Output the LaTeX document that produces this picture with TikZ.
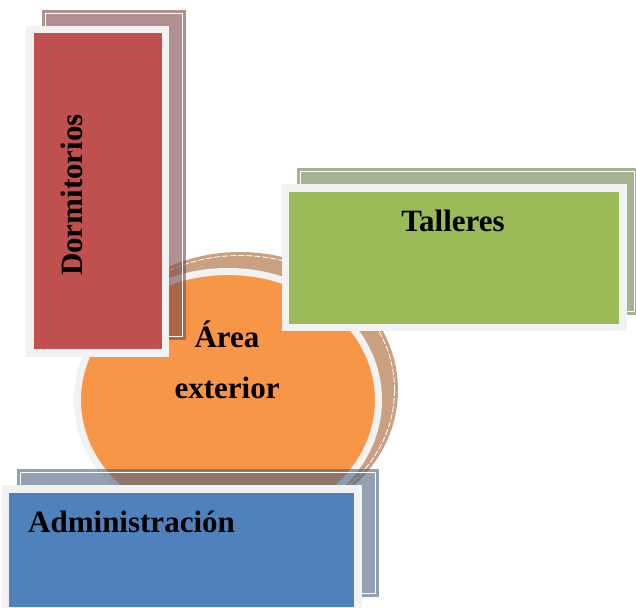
\documentclass[tikz,border=0pt]{standalone}
\usepackage{fontspec}
\setmainfont{Liberation Serif}
\usetikzlibrary{positioning,shapes.geometric}
\definecolor{ringgray}{HTML}{F2F2F2}
\definecolor{ovalfill}{HTML}{F79646}
\definecolor{ovalshadow}{HTML}{C9A182}
\definecolor{dormfill}{HTML}{C0504D}
\definecolor{dormshadow}{RGB}{123,70,70}
\definecolor{tallfill}{HTML}{9BBB59}
\definecolor{tallshadow}{RGB}{107,127,77}
\definecolor{admfill}{HTML}{4F81BD}
\definecolor{admshadow}{RGB}{73,97,127}

\begin{document}
\begin{tikzpicture}[
            x=1pt, y=-1pt,
            font=\fontsize{31}{37}\selectfont\bfseries,
            frame/.style={draw=ringgray, line width=7.5pt, inner sep=0pt},
            shadowbox/.style={inner sep=0pt, fill opacity=0.6},
            rim/.style={draw=white, line width=0.8pt},
            lbl/.style={text=black, inner sep=0pt}
        ]
            \useasboundingbox (0,0) rectangle (636,607);

            % area exterior (oval + shadow)
            \node[ellipse, fill=ovalshadow, inner sep=0pt, minimum width=316pt, minimum height=276pt] (ovalsh) at (240,390) {};
            \draw[rim, dash pattern=on 6pt off 2pt] (ovalsh.center) ellipse [x radius=154.5, y radius=134.5];
            \node[ellipse, draw=ringgray, line width=7pt, fill=ovalfill, inner sep=0pt, minimum width=301pt, minimum height=257pt] (oval) at (228,400) {};

            % dormitorios
            \node[shadowbox, fill=dormshadow, minimum width=144pt, minimum height=330pt] (dormsh) at (114,175) {};
            \draw[rim] ([shift={(3.5,3.5)}]dormsh.north west) rectangle ([shift={(-3.5,-3.5)}]dormsh.south east);
            \node[frame, fill=dormfill, minimum width=135.5pt, minimum height=323.5pt] (dorm) at (97.75,191.25) {};

            % talleres
            \node[shadowbox, fill=tallshadow, minimum width=341pt, minimum height=147pt] (tallsh) at (467.5,241.5) {};
            \draw[rim] ([shift={(4,4)}]tallsh.north west) rectangle ([shift={(-4,-4)}]tallsh.south east);
            \node[frame, fill=tallfill, minimum width=337.5pt, minimum height=139.5pt] (tall) at (454.25,257.75) {};

            % administracion
            \node[shadowbox, fill=admshadow, minimum width=362pt, minimum height=128pt] (admsh) at (198,533) {};
            \draw[rim] ([shift={(4,4)}]admsh.north west) rectangle ([shift={(-4,-4)}]admsh.south east);
            \node[frame, fill=admfill, minimum width=352.5pt, minimum height=122pt] (adm) at (181.75,550) {};

            % labels
            \node[lbl, rotate=90, anchor=base] (dormtxt) at (82,195) {Dormitorios};
            \node[lbl, anchor=base] (talltxt) at (453,231) {Talleres};
            \node[lbl, anchor=base] (areatxt) at (227,347) {Área};
            \node[lbl, anchor=base] (exttxt) at (227,398) {exterior};
            \node[lbl, anchor=base west] (admtxt) at (28,532) {Administración};
        \end{tikzpicture}
\end{document}
